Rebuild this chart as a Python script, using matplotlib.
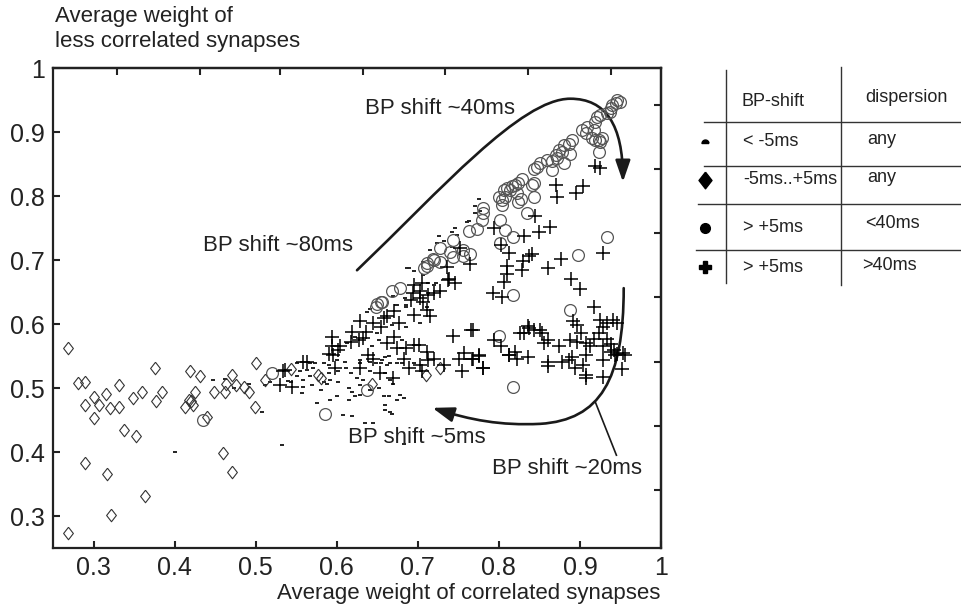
import numpy as np
import matplotlib
matplotlib.use('Agg')
import matplotlib.pyplot as plt
from matplotlib.path import Path
from matplotlib.patches import FancyArrowPatch

plt.rcParams['font.family'] = ['Liberation Sans', 'DejaVu Sans']

# BP shift -5..+5 ms (open diamonds)
diamond_pts = np.array([
    [0.268, 0.562], [0.281, 0.508], [0.290, 0.510], [0.290, 0.474], [0.300, 0.486],
    [0.301, 0.453], [0.307, 0.473], [0.315, 0.490], [0.320, 0.468], [0.331, 0.505],
    [0.331, 0.470], [0.338, 0.434], [0.352, 0.425], [0.349, 0.485], [0.360, 0.493],
    [0.376, 0.532], [0.377, 0.480], [0.384, 0.494], [0.289, 0.383], [0.317, 0.366],
    [0.321, 0.302], [0.363, 0.331], [0.268, 0.274], [0.419, 0.527], [0.431, 0.518],
    [0.425, 0.493], [0.418, 0.482], [0.420, 0.480], [0.413, 0.471], [0.423, 0.473],
    [0.440, 0.455], [0.448, 0.493], [0.460, 0.398], [0.462, 0.493], [0.463, 0.506],
    [0.471, 0.520], [0.476, 0.505], [0.471, 0.369], [0.486, 0.501], [0.492, 0.494],
    [0.501, 0.539], [0.499, 0.470], [0.512, 0.513], [0.544, 0.530], [0.577, 0.521],
    [0.580, 0.515], [0.643, 0.506], [0.710, 0.520], [0.727, 0.531],
])

# BP shift > +5 ms, dispersion < 40 ms (open circles)
circle_pts = np.array([
    [0.946, 0.950], [0.950, 0.947], [0.944, 0.945], [0.940, 0.942], [0.938, 0.937],
    [0.937, 0.932], [0.934, 0.929], [0.925, 0.927], [0.921, 0.924], [0.919, 0.916],
    [0.909, 0.908], [0.903, 0.903], [0.907, 0.898], [0.917, 0.903], [0.915, 0.890],
    [0.919, 0.888], [0.923, 0.888], [0.927, 0.890], [0.925, 0.885], [0.923, 0.869],
    [0.890, 0.888], [0.886, 0.882], [0.880, 0.880], [0.878, 0.869], [0.874, 0.872],
    [0.870, 0.864], [0.888, 0.866], [0.880, 0.851], [0.872, 0.859], [0.866, 0.854],
    [0.866, 0.841], [0.859, 0.856], [0.851, 0.851], [0.847, 0.846], [0.843, 0.842],
    [0.843, 0.820], [0.829, 0.826], [0.824, 0.820], [0.820, 0.817], [0.816, 0.815],
    [0.810, 0.812], [0.806, 0.809], [0.800, 0.799], [0.804, 0.794], [0.808, 0.799],
    [0.814, 0.809], [0.822, 0.804], [0.827, 0.796], [0.824, 0.791], [0.835, 0.774],
    [0.843, 0.798], [0.841, 0.817], [0.804, 0.786], [0.781, 0.781], [0.781, 0.773],
    [0.779, 0.763], [0.802, 0.763], [0.808, 0.747], [0.818, 0.736], [0.802, 0.726],
    [0.898, 0.708], [0.934, 0.736], [0.773, 0.748], [0.763, 0.745], [0.743, 0.731],
    [0.727, 0.718], [0.740, 0.712], [0.744, 0.705], [0.756, 0.706], [0.765, 0.710],
    [0.756, 0.716], [0.728, 0.697], [0.719, 0.701], [0.711, 0.695], [0.708, 0.687],
    [0.711, 0.690], [0.720, 0.700], [0.678, 0.657], [0.668, 0.652], [0.656, 0.635],
    [0.650, 0.632], [0.654, 0.635], [0.648, 0.627], [0.818, 0.646], [0.800, 0.582],
    [0.817, 0.501], [0.888, 0.622], [0.637, 0.497], [0.586, 0.460], [0.520, 0.523],
    [0.435, 0.450],
])

# BP shift > +5 ms, dispersion > 40 ms (plus signs)
plus_pts = np.array([
    [0.919, 0.847], [0.925, 0.843], [0.871, 0.817], [0.872, 0.798], [0.904, 0.816],
    [0.895, 0.804], [0.845, 0.769], [0.794, 0.750], [0.831, 0.738], [0.850, 0.743],
    [0.863, 0.751], [0.803, 0.723], [0.813, 0.711], [0.841, 0.710], [0.837, 0.706],
    [0.830, 0.699], [0.828, 0.684], [0.810, 0.690], [0.810, 0.678], [0.806, 0.666],
    [0.861, 0.687], [0.877, 0.701], [0.889, 0.670], [0.900, 0.654], [0.929, 0.711],
    [0.793, 0.649], [0.804, 0.642],
    [0.917, 0.627], [0.925, 0.607], [0.941, 0.607], [0.946, 0.602], [0.934, 0.602],
    [0.929, 0.596], [0.892, 0.604], [0.896, 0.598], [0.924, 0.586], [0.901, 0.586],
    [0.888, 0.575], [0.896, 0.572], [0.907, 0.570], [0.917, 0.576], [0.934, 0.576],
    [0.938, 0.569], [0.929, 0.565], [0.913, 0.565], [0.874, 0.566], [0.860, 0.575],
    [0.856, 0.570], [0.837, 0.593], [0.851, 0.591], [0.853, 0.586], [0.831, 0.586],
    [0.843, 0.591], [0.836, 0.597], [0.768, 0.591], [0.794, 0.575], [0.803, 0.565],
    [0.775, 0.552], [0.768, 0.545], [0.780, 0.532], [0.813, 0.551], [0.820, 0.557],
    [0.822, 0.546], [0.836, 0.548], [0.860, 0.541], [0.860, 0.534], [0.878, 0.540],
    [0.886, 0.544], [0.890, 0.548], [0.894, 0.531], [0.904, 0.536], [0.907, 0.552],
    [0.907, 0.520], [0.908, 0.515], [0.929, 0.544], [0.929, 0.517], [0.952, 0.529],
    [0.942, 0.559], [0.943, 0.552], [0.946, 0.553], [0.953, 0.554], [0.955, 0.552],
    [0.938, 0.557], [0.826, 0.586], [0.812, 0.551], [0.766, 0.591], [0.743, 0.582],
    [0.752, 0.719], [0.764, 0.693], [0.736, 0.689], [0.738, 0.671], [0.746, 0.664],
    [0.737, 0.669], [0.705, 0.664], [0.695, 0.661], [0.694, 0.648], [0.703, 0.651],
    [0.703, 0.640], [0.720, 0.648], [0.727, 0.651], [0.713, 0.645], [0.691, 0.638],
    [0.706, 0.635], [0.711, 0.622], [0.695, 0.614], [0.715, 0.612], [0.671, 0.621],
    [0.662, 0.612], [0.677, 0.601], [0.654, 0.596], [0.645, 0.601], [0.629, 0.604],
    [0.658, 0.609], [0.619, 0.588], [0.636, 0.588], [0.627, 0.575], [0.633, 0.578],
    [0.617, 0.572], [0.594, 0.565], [0.604, 0.565], [0.602, 0.559], [0.591, 0.553],
    [0.594, 0.579], [0.671, 0.579], [0.695, 0.567], [0.674, 0.562], [0.685, 0.562],
    [0.639, 0.552], [0.645, 0.546], [0.662, 0.570], [0.683, 0.546], [0.689, 0.531],
    [0.703, 0.536], [0.705, 0.526], [0.713, 0.544], [0.720, 0.546], [0.732, 0.536],
    [0.755, 0.526], [0.751, 0.546], [0.767, 0.545], [0.775, 0.550], [0.780, 0.532],
    [0.757, 0.555], [0.701, 0.567], [0.711, 0.557], [0.653, 0.523], [0.669, 0.515],
    [0.598, 0.531], [0.629, 0.531], [0.596, 0.552], [0.559, 0.541], [0.563, 0.541],
    [0.536, 0.528], [0.530, 0.505], [0.545, 0.502], [0.534, 0.527],
])

# BP shift < -5 ms (small dashes)
dot_pts = np.array([
    [0.567, 0.539], [0.573, 0.539], [0.584, 0.539], [0.590, 0.536], [0.571, 0.531],
    [0.563, 0.528], [0.555, 0.526], [0.551, 0.518], [0.559, 0.513], [0.567, 0.518],
    [0.569, 0.505], [0.559, 0.502], [0.557, 0.492], [0.580, 0.497], [0.588, 0.507],
    [0.592, 0.513], [0.602, 0.526], [0.610, 0.541], [0.617, 0.523], [0.612, 0.531],
    [0.600, 0.544], [0.629, 0.539], [0.629, 0.544], [0.625, 0.515], [0.633, 0.513],
    [0.619, 0.494], [0.629, 0.489], [0.623, 0.487], [0.615, 0.481], [0.600, 0.487],
    [0.592, 0.481], [0.576, 0.476], [0.608, 0.458], [0.619, 0.456], [0.641, 0.541],
    [0.648, 0.539], [0.654, 0.539], [0.660, 0.549], [0.664, 0.550], [0.666, 0.539],
    [0.674, 0.539], [0.680, 0.539], [0.660, 0.523], [0.666, 0.513], [0.652, 0.500],
    [0.641, 0.497], [0.629, 0.505], [0.658, 0.487], [0.664, 0.487], [0.678, 0.489],
    [0.683, 0.484], [0.660, 0.473], [0.660, 0.466], [0.666, 0.463], [0.668, 0.460],
    [0.635, 0.445], [0.645, 0.445], [0.532, 0.411], [0.670, 0.507], [0.641, 0.526],
    [0.674, 0.481], [0.615, 0.500], [0.602, 0.510], [0.584, 0.510], [0.590, 0.523],
    [0.543, 0.510], [0.683, 0.412],
    [0.687, 0.687], [0.695, 0.683], [0.722, 0.664], [0.713, 0.648], [0.684, 0.641],
    [0.674, 0.630], [0.685, 0.626], [0.637, 0.619], [0.641, 0.624], [0.668, 0.598],
    [0.685, 0.595], [0.703, 0.601], [0.680, 0.575], [0.650, 0.586], [0.652, 0.575],
    [0.643, 0.565], [0.623, 0.580], [0.613, 0.570], [0.656, 0.544], [0.662, 0.536],
    [0.695, 0.539], [0.777, 0.776], [0.771, 0.773], [0.763, 0.761], [0.761, 0.760],
    [0.746, 0.750], [0.742, 0.744], [0.748, 0.739], [0.726, 0.738], [0.732, 0.729],
    [0.724, 0.727], [0.742, 0.721], [0.715, 0.715], [0.707, 0.697], [0.689, 0.687],
    [0.707, 0.677], [0.713, 0.664], [0.720, 0.661], [0.670, 0.643], [0.685, 0.630],
    [0.673, 0.630], [0.711, 0.627], [0.775, 0.795], [0.770, 0.785],
    [0.447, 0.513], [0.462, 0.514], [0.473, 0.500], [0.492, 0.507], [0.508, 0.463],
    [0.401, 0.400], [0.512, 0.505], [0.518, 0.510], [0.540, 0.511], [0.551, 0.539],
])

ticks = [0.3, 0.4, 0.5, 0.6, 0.7, 0.8, 0.9, 1.0]
tick_labels = ['0.3', '0.4', '0.5', '0.6', '0.7', '0.8', '0.9', '1']
top_ticks = [0.329, 0.431, 0.530, 0.633, 0.734, 0.836, 0.938]
right_ticks = [0.341, 0.441, 0.541, 0.642, 0.742, 0.842, 0.942]

legend_shift = ['< -5ms', '-5ms..+5ms', '> +5ms', '> +5ms']
legend_disp = ['any', 'any', '<40ms', '>40ms']

diamond_marker = [(0, 1), (0.78, 0), (0, -1), (-0.78, 0), (0, 1)]
th = np.linspace(0, np.pi, 20)
dome_marker = list(zip(np.cos(th), np.sin(th))) + [(1, 0)]

fig = plt.figure(figsize=(9.62, 6.07), dpi=100)
ax = fig.add_axes([53/962, 1 - 548/607, 608/962, 480/607])

ax.plot(dot_pts[:, 0], dot_pts[:, 1], ls='none', marker='_', ms=3.5, mew=1.4, color='#222222')
ax.plot(diamond_pts[:, 0], diamond_pts[:, 1], ls='none', marker=diamond_marker, ms=9,
        mfc='none', mec='#333333', mew=0.8)
ax.plot(circle_pts[:, 0], circle_pts[:, 1], ls='none', marker='o', ms=8.5,
        mfc='none', mec='#555555', mew=0.9)
ax.plot(plus_pts[:, 0], plus_pts[:, 1], ls='none', marker='+', ms=10, mew=1.1, color='k')

ax.set_xlim(0.25, 1.0)
ax.set_ylim(0.25, 1.0)
ax.set_xticks(ticks, tick_labels)
ax.set_yticks(ticks, tick_labels)
ax.tick_params(direction='in', length=5, width=1.5, labelsize=18, pad=6, colors='#222222')
for s in ax.spines.values():
    s.set_linewidth(1.6)
    s.set_color('#222222')

top = ax.secondary_xaxis('top')
top.set_xticks(top_ticks, [])
top.tick_params(direction='in', length=5, width=1.5, colors='#222222')
top.spines['top'].set_linewidth(1.6)
right = ax.secondary_yaxis('right')
right.set_yticks(right_ticks, [])
right.tick_params(direction='in', length=5, width=1.5, colors='#222222')
right.spines['right'].set_linewidth(1.6)

# arrows
c4 = [Path.MOVETO, Path.CURVE4, Path.CURVE4, Path.CURVE4, Path.CURVE4, Path.CURVE4, Path.CURVE4]
arc1 = Path([(0.625, 0.684), (0.728, 0.809), (0.827, 0.952), (0.888, 0.952),
             (0.932, 0.952), (0.953, 0.911), (0.953, 0.822)], c4)
arc2 = Path([(0.954, 0.656), (0.954, 0.513), (0.925, 0.450), (0.851, 0.444),
             (0.802, 0.441), (0.765, 0.450), (0.718, 0.469)], c4)
for p in (arc1, arc2):
    ax.add_patch(FancyArrowPatch(path=p, arrowstyle='-|>,head_length=1.3,head_width=0.45',
                                 mutation_scale=10, lw=1.9, color='#1a1a1a'))
ax.plot([0.919, 0.945], [0.478, 0.395], color='#1a1a1a', lw=1.2)

ax.text(0.635, 0.9375, 'BP shift ~40ms', fontsize=16, va='center', color='#222222')
ax.text(0.435, 0.722, 'BP shift ~80ms', fontsize=16, va='center', color='#222222')
ax.text(0.614, 0.423, 'BP shift ~5ms', fontsize=16, va='center', color='#222222')
ax.text(0.792, 0.375, 'BP shift ~20ms', fontsize=16, va='center', color='#222222')

fig.text(660/962, 1 - 599/607, 'Average weight of correlated synapses', fontsize=16,
         ha='right', va='baseline', color='#222222')
fig.text(55/962, 1 - 22/607, 'Average weight of', fontsize=16, va='baseline', color='#222222')
fig.text(55/962, 1 - 47/607, 'less correlated synapses', fontsize=16, va='baseline', color='#222222')

# legend table, drawn in pixel coordinates
lg = fig.add_axes([0, 0, 1, 1])
lg.set_xlim(0, 962)
lg.set_ylim(607, 0)
lg.axis('off')
lg.patch.set_visible(False)
lc = '#333333'
lg.plot([726, 726], [70, 283], color=lc, lw=1)
lg.plot([841, 841], [67, 285], color=lc, lw=1)
for y0, x0 in zip([122, 166, 204, 250], [704, 704, 698, 696]):
    lg.plot([x0, 962], [y0, y0], color=lc, lw=1)
lg.text(742, 101, 'BP-shift', fontsize=13, va='center', color='#222222')
lg.text(865, 97, 'dispersion', fontsize=13, va='center', color='#222222')
row_y = [141, 179, 227, 267]
disp_y = [140, 178, 224, 266]
disp_x = [867, 867, 865, 862]
for i in range(4):
    lg.text(743, row_y[i], legend_shift[i], fontsize=13, va='center', color='#222222')
    lg.text(disp_x[i], disp_y[i], legend_disp[i], fontsize=13, va='center', color='#222222')
lg.plot(705, 143, marker=dome_marker, ms=5, color='k', ls='none')
lg.plot(705, 180, marker=diamond_marker, ms=12, color='k', ls='none')
lg.plot(705, 228, marker='o', ms=7, color='k', ls='none')
lg.plot(705, 267, marker='P', ms=8, color='k', ls='none')

fig.savefig('out.png', dpi=100)
